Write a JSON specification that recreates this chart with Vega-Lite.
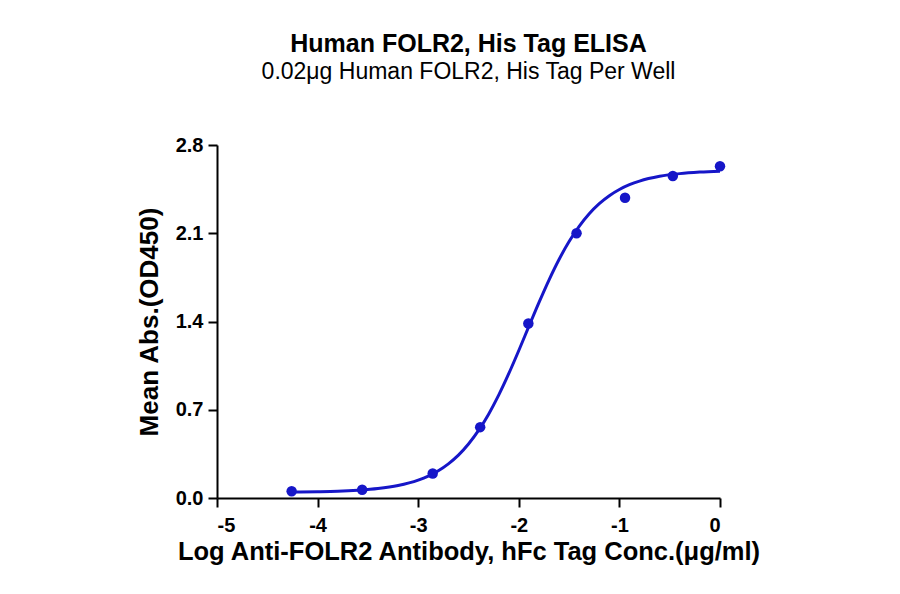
{
  "$schema": "https://vega.github.io/schema/vega-lite/v6.json",
  "width": 503,
  "height": 353,
  "autosize": {"type": "none"},
  "padding": {"left": 217, "top": 145, "right": 180, "bottom": 96},
  "background": "white",
  "config": {
    "view": {"stroke": null},
    "font": "Liberation Sans",
    "axis": {
      "domainColor": "black",
      "domainWidth": 2,
      "tickColor": "black",
      "tickWidth": 2,
      "tickSize": 9,
      "grid": false,
      "labelColor": "black",
      "labelFont": "Liberation Sans",
      "labelFontSize": 20,
      "labelFontWeight": "bold",
      "titleColor": "black",
      "titleFont": "Liberation Sans",
      "titleFontWeight": "bold"
    }
  },
  "title": {
    "text": "Human FOLR2, His Tag ELISA",
    "subtitle": "0.02μg Human FOLR2, His Tag Per Well",
    "anchor": "middle",
    "font": "Liberation Sans",
    "fontSize": 25,
    "fontWeight": "bold",
    "color": "black",
    "subtitleFont": "Liberation Sans",
    "subtitleFontSize": 23,
    "subtitleColor": "black",
    "subtitlePadding": 4,
    "offset": 51
  },
  "datasets": {
    "points": [
      {"logconc": -4.258, "od": 0.053},
      {"logconc": -3.557, "od": 0.066},
      {"logconc": -2.856, "od": 0.194},
      {"logconc": -2.384, "od": 0.562},
      {"logconc": -1.905, "od": 1.384},
      {"logconc": -1.426, "od": 2.1},
      {"logconc": -0.944, "od": 2.381},
      {"logconc": -0.469, "od": 2.554},
      {"logconc": 0.0, "od": 2.631}
    ],
    "curve": [
      {"logconc": -4.26, "od": 0.047},
      {"logconc": -4.0, "od": 0.05},
      {"logconc": -3.8, "od": 0.054},
      {"logconc": -3.6, "od": 0.062},
      {"logconc": -3.4, "od": 0.075},
      {"logconc": -3.2, "od": 0.099},
      {"logconc": -3.0, "od": 0.142},
      {"logconc": -2.9, "od": 0.174},
      {"logconc": -2.8, "od": 0.216},
      {"logconc": -2.7, "od": 0.271},
      {"logconc": -2.6, "od": 0.34},
      {"logconc": -2.5, "od": 0.428},
      {"logconc": -2.4, "od": 0.536},
      {"logconc": -2.3, "od": 0.665},
      {"logconc": -2.2, "od": 0.816},
      {"logconc": -2.1, "od": 0.986},
      {"logconc": -2.0, "od": 1.17},
      {"logconc": -1.9, "od": 1.361},
      {"logconc": -1.8, "od": 1.55},
      {"logconc": -1.7, "od": 1.729},
      {"logconc": -1.6, "od": 1.892},
      {"logconc": -1.5, "od": 2.034},
      {"logconc": -1.4, "od": 2.155},
      {"logconc": -1.3, "od": 2.255},
      {"logconc": -1.2, "od": 2.335},
      {"logconc": -1.1, "od": 2.398},
      {"logconc": -1.0, "od": 2.447},
      {"logconc": -0.9, "od": 2.485},
      {"logconc": -0.8, "od": 2.514},
      {"logconc": -0.6, "od": 2.552},
      {"logconc": -0.4, "od": 2.573},
      {"logconc": -0.2, "od": 2.585},
      {"logconc": 0.0, "od": 2.592}
    ]
  },
  "encoding": {
    "x": {
      "field": "logconc",
      "type": "quantitative",
      "scale": {"domain": [-5, 0], "nice": false},
      "axis": {
        "values": [-5, -4, -3, -2, -1, 0],
        "labelExpr": "toString(datum.value)",
        "labelPadding": 8,
        "titlePadding": 4,
        "titleFontSize": 25.5,
        "title": "Log Anti-FOLR2 Antibody, hFc Tag Conc.(μg/ml)"
      }
    },
    "y": {
      "field": "od",
      "type": "quantitative",
      "scale": {"domain": [0, 2.8], "nice": false},
      "axis": {
        "values": [0, 0.7, 1.4, 2.1, 2.8],
        "format": ".1f",
        "labelPadding": 5,
        "titlePadding": 13,
        "titleFontSize": 26,
        "title": "Mean Abs.(OD450)"
      }
    }
  },
  "layer": [
    {
      "data": {"name": "curve"},
      "mark": {"type": "line", "color": "#1616c8", "strokeWidth": 3, "interpolate": "monotone"}
    },
    {
      "data": {"name": "points"},
      "mark": {"type": "point", "filled": true, "color": "#1616c8", "opacity": 1, "size": 110}
    }
  ]
}
